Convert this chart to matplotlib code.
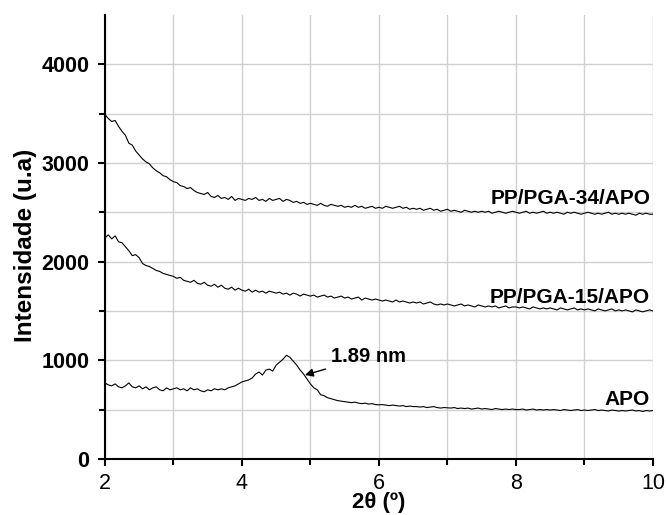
import numpy as np
import matplotlib.pyplot as plt

plt.rcParams['font.family'] = ['Liberation Sans', 'DejaVu Sans']

# 2theta scan, 0.05 deg step
two_theta = np.linspace(2, 10, 161)

pga34 = [3490, 3450, 3420, 3430, 3370, 3320, 3280, 3200, 3180, 3120, 3080,
         3040, 3010, 2990, 2950, 2920, 2900, 2870, 2860, 2830, 2810,
         2800, 2770, 2760, 2740, 2750, 2720, 2700, 2690, 2680, 2700,
         2660, 2650, 2670, 2640, 2650, 2630, 2660, 2620, 2640, 2630,
         2620, 2640, 2630, 2650, 2620, 2630, 2610, 2640, 2620, 2630,
         2640, 2610, 2630, 2620, 2600, 2610, 2590, 2600, 2580, 2590,
         2580, 2570, 2590, 2570, 2560, 2580, 2570, 2560, 2570, 2550,
         2560, 2550, 2570, 2550, 2560, 2540, 2550, 2560, 2540, 2550,
         2540, 2560, 2550, 2540, 2550, 2560, 2540, 2550, 2530, 2540,
         2530, 2540, 2520, 2530, 2540, 2520, 2530, 2510, 2520, 2530,
         2510, 2520, 2510, 2500, 2520, 2510, 2500, 2510, 2500, 2510,
         2500, 2510, 2490, 2500, 2510, 2500, 2490, 2500, 2510, 2500,
         2490, 2500, 2510, 2490, 2500, 2490, 2500, 2510, 2490, 2500,
         2490, 2500, 2490, 2480, 2500, 2490, 2500, 2490, 2480, 2490,
         2500, 2490, 2480, 2490, 2480, 2490, 2500, 2480, 2490, 2480,
         2490, 2480, 2490, 2480, 2470, 2490, 2480, 2490, 2480, 2480]

pga15 = [2240, 2270, 2230, 2260, 2200, 2190, 2150, 2110, 2060, 2070, 2040,
         1980, 1960, 1950, 1930, 1910, 1900, 1880, 1870, 1860, 1850,
         1830, 1840, 1810, 1800, 1790, 1810, 1780, 1770, 1790, 1760,
         1750, 1770, 1740, 1760, 1730, 1720, 1740, 1710, 1730, 1710,
         1700, 1720, 1690, 1710, 1690, 1700, 1680, 1700, 1690, 1680,
         1690, 1670, 1680, 1660, 1680, 1670, 1650, 1670, 1660, 1650,
         1660, 1640, 1650, 1660, 1640, 1650, 1630, 1640, 1650, 1630,
         1640, 1620, 1630, 1640, 1610, 1630, 1620, 1610, 1620, 1610,
         1600, 1610, 1600, 1590, 1610, 1590, 1600, 1590, 1580, 1590,
         1580, 1590, 1570, 1580, 1590, 1570, 1560, 1570, 1560, 1570,
         1560, 1550, 1560, 1570, 1550, 1560, 1550, 1540, 1560, 1550,
         1540, 1550, 1540, 1550, 1530, 1540, 1550, 1530, 1540, 1540,
         1530, 1540, 1530, 1520, 1540, 1530, 1520, 1530, 1520, 1530,
         1520, 1510, 1530, 1520, 1510, 1520, 1530, 1510, 1520, 1510,
         1520, 1510, 1500, 1520, 1510, 1500, 1510, 1520, 1500, 1510,
         1500, 1510, 1500, 1490, 1510, 1500, 1490, 1500, 1510, 1500]

apo = [770, 750, 740, 760, 730, 720, 740, 770, 730, 720, 740,
       710, 730, 700, 720, 730, 700, 690, 720, 700, 710,
       720, 700, 710, 690, 720, 700, 710, 690, 680, 700,
       690, 710, 700, 710, 700, 720, 730, 740, 760, 780,
       790, 800, 820, 860, 880, 850, 900, 910, 890, 950,
       980, 1010, 1050, 1030, 990, 950, 900, 860, 810, 760,
       720, 700, 650, 640, 620, 610, 600, 590, 585, 580,
       575, 570, 575, 565, 560, 565, 555, 560, 550, 548,
       550, 545, 540, 545, 540, 535, 540, 530, 535, 530,
       530, 525, 530, 520, 525, 530, 520, 515, 520, 518,
       515, 520, 510, 515, 510, 515, 505, 510, 515, 505,
       510, 505, 500, 510, 505, 500, 505, 500, 505, 500,
       500, 505, 495, 500, 505, 495, 500, 495, 500, 495,
       500, 495, 490, 500, 495, 490, 495, 500, 490, 495,
       490, 495, 500, 490, 495, 490, 485, 495, 490, 485,
       490, 485, 490, 495, 485, 490, 480, 490, 485, 490]

labels = ['PP/PGA-34/APO', 'PP/PGA-15/APO', 'APO']
label_y = [2640, 1640, 600]

fig = plt.figure(figsize=(6.68, 5.15), dpi=100)
ax = fig.add_axes([0.157, 0.109, 0.8205, 0.862])

for series in (pga34, pga15, apo):
    ax.plot(two_theta, series, color='black', lw=0.8)

for lab, yy in zip(labels, label_y):
    ax.text(9.96, yy, lab, ha='right', va='center', fontsize=15, fontweight='bold')

ax.annotate('1.89 nm', xy=(4.92, 850), xytext=(5.3, 1035),
            fontsize=14.5, fontweight='bold', ha='left', va='center',
            arrowprops=dict(arrowstyle='-|>', color='black', lw=1, mutation_scale=12,
                            shrinkA=2, shrinkB=0))

ax.set_xlim(2, 10)
ax.set_ylim(0, 4500)
ax.set_xticks([2, 4, 6, 8, 10])
ax.set_xticks([3, 5, 7, 9], minor=True)
ax.set_yticks([0, 1000, 2000, 3000, 4000])
ax.set_yticks([500, 1500, 2500, 3500], minor=True)
ax.grid(True, which='both', color='#d0d0d0', lw=1)
ax.set_axisbelow(True)

for s in ('top', 'right'):
    ax.spines[s].set_visible(False)
for s in ('left', 'bottom'):
    ax.spines[s].set_linewidth(1.5)

ax.tick_params(which='major', direction='out', length=5, width=1.5, pad=5)
ax.tick_params(which='minor', direction='out', length=4, width=1.5)
ax.tick_params(axis='x', labelsize=15.5)
ax.tick_params(axis='y', labelsize=15.5, pad=6)
for t in ax.get_yticklabels():
    t.set_fontweight('bold')

ax.set_xlabel('2θ (º)', fontsize=16, fontweight='bold', labelpad=-1)
ax.set_ylabel('Intensidade (u.a)', fontsize=17.5, fontweight='bold')
ax.yaxis.set_label_coords(-0.124, 0.48)

fig.savefig('out.png', dpi=100)
